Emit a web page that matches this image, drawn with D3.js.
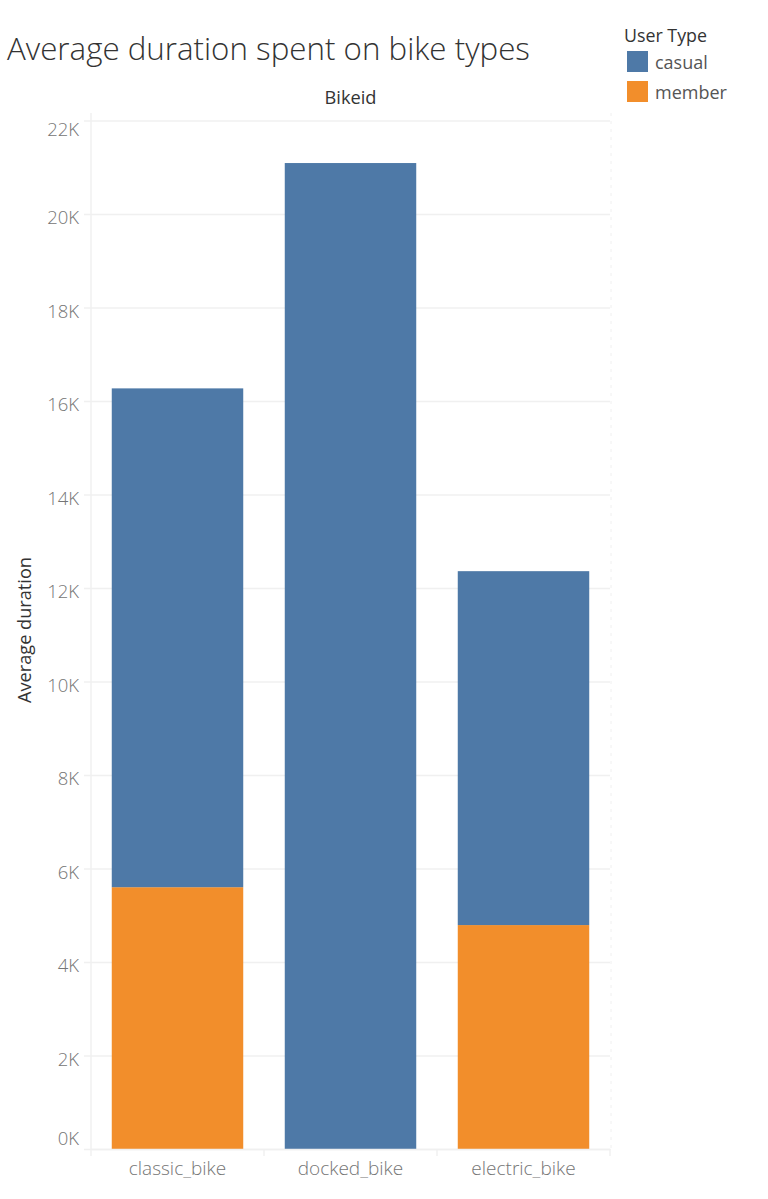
<!DOCTYPE html>
<html>
<head>
<meta charset="utf-8">
<script src="https://cdn.jsdelivr.net/npm/d3@7"></script>
<style>
  body { margin: 0; background: #fff; }
  svg { display: block; font-family: "Open Sans", "Noto Sans", sans-serif; }
</style>
</head>
<body>
<svg id="chart" width="768" height="1199"></svg>
<script>
var bikeTypes = ['classic_bike', 'docked_bike', 'electric_bike'];
var userTypes = ['casual', 'member'];
var casualValues = [10670, 21090, 7570];
var memberValues = [5600, 0, 4790];
var yTicks = [0, 2000, 4000, 6000, 8000, 10000, 12000, 14000, 16000, 18000, 20000, 22000];
var colors = ['#4e79a7', '#f28e2b'];

var svg = d3.select('#chart');
var plotLeft = 91, plotRight = 610, plotTop = 120.5, plotBottom = 1149;

var x = d3.scaleBand().domain(bikeTypes).range([plotLeft, plotRight]).paddingInner(0.24).paddingOuter(0.12);
var y = d3.scaleLinear().domain([0, 22000]).range([plotBottom, plotTop]);
var color = d3.scaleOrdinal().domain(userTypes).range(colors);

// rows for the stack, member sits at the bottom
var rows = bikeTypes.map(function(b, i){
  return { bike: b, casual: casualValues[i], member: memberValues[i] };
});
var stack = d3.stack().keys(['member', 'casual'])(rows);

// scale a text so it spans a given width
function fitWidth(sel, size, w){
  var tw = sel.node().getComputedTextLength();
  sel.attr('font-size', size * w / tw);
}

// title
var title = svg.append('text')
  .attr('x', 7).attr('y', 60)
  .attr('font-size', 28).attr('font-weight', 300)
  .attr('fill', '#333')
  .text('Average duration spent on bike types');
fitWidth(title, 28, 523);

// column header
var header = svg.append('text')
  .attr('x', (plotLeft + plotRight) / 2).attr('y', 104)
  .attr('text-anchor', 'middle')
  .attr('font-size', 18).attr('fill', '#333')
  .text('Bikeid');
fitWidth(header, 18, 52);

// gridlines + y ticks
var yAxis = d3.axisLeft(y).tickValues(yTicks).tickSize(plotRight - plotLeft + 7).tickSizeOuter(0)
  .tickFormat(function(d){ return (d / 1000) + 'K'; });
var gy = svg.append('g').attr('transform', 'translate(' + plotRight + ',0)').call(yAxis);
gy.select('.domain').remove();
gy.selectAll('.tick line').attr('stroke', '#f0f0f0').attr('stroke-width', 1.5);
gy.selectAll('.tick text')
  .attr('x', -(plotRight - plotLeft + 12))
  .attr('dy', null)
  .attr('dominant-baseline', 'central')
  .attr('y', function(d){
    var p = y(d) + 2;
    return Math.max(plotTop + 7.5, Math.min(plotBottom - 12, p)) - y(d);
  })
  .attr('font-size', 18.5).attr('font-weight', 300).attr('fill', '#757575')
  .attr('font-family', '"Open Sans", "Noto Sans", sans-serif');

// left axis line and faint right edge
svg.append('line').attr('x1', plotLeft).attr('x2', plotLeft).attr('y1', 113).attr('y2', plotBottom)
  .attr('stroke', '#f0f0f0').attr('stroke-width', 1.5);
svg.append('line').attr('x1', plotRight + 1).attr('x2', plotRight + 1).attr('y1', 113).attr('y2', plotBottom)
  .attr('stroke', '#f0f0f0').attr('stroke-dasharray', '3,5');

// bars
svg.append('g').selectAll('g').data(stack).enter().append('g')
  .attr('fill', function(d){ return color(d.key); })
  .selectAll('rect').data(function(d){ return d; }).enter().append('rect')
  .attr('x', function(d){ return x(d.data.bike); })
  .attr('width', x.bandwidth())
  .attr('y', function(d){ return y(d[1]); })
  .attr('height', function(d){ return y(d[0]) - y(d[1]); });

// bottom axis
var xAxis = d3.axisBottom(x).tickSize(0).tickPadding(13);
var gx = svg.append('g').attr('transform', 'translate(0,' + plotBottom + ')').call(xAxis);
gx.select('.domain').attr('stroke', '#f0f0f0').attr('stroke-width', 1.5);
gx.selectAll('.tick text').attr('font-size', 19).attr('font-weight', 300).attr('fill', '#757575')
  .attr('font-family', '"Open Sans", "Noto Sans", sans-serif');
svg.append('g').selectAll('line').data([0, 1, 2, 3]).enter().append('line')
  .attr('x1', function(d){ return plotLeft + d * (plotRight - plotLeft) / 3; })
  .attr('x2', function(d){ return plotLeft + d * (plotRight - plotLeft) / 3; })
  .attr('y1', plotBottom).attr('y2', plotBottom + 7)
  .attr('stroke', '#f0f0f0').attr('stroke-width', 1.5);

// y axis title
var yTitle = svg.append('text')
  .attr('transform', 'translate(31,630) rotate(-90)')
  .attr('text-anchor', 'middle')
  .attr('font-size', 18).attr('fill', '#333')
  .text('Average duration');
fitWidth(yTitle, 18, 146);

// legend
var legendTitle = svg.append('text').attr('x', 624).attr('y', 42)
  .attr('font-size', 17).attr('font-weight', 500).attr('fill', '#333')
  .text('User Type');
fitWidth(legendTitle, 17, 83);
var lg = svg.append('g').selectAll('g').data(userTypes).enter().append('g')
  .attr('transform', function(d, i){ return 'translate(627,' + (51 + i * 30) + ')'; });
lg.append('rect').attr('width', 21).attr('height', 21)
  .attr('fill', function(d){ return color(d); });
lg.append('text').attr('x', 28).attr('y', 11)
  .attr('dominant-baseline', 'central')
  .attr('font-size', 18).attr('fill', '#555')
  .text(function(d){ return d; });
</script>
</body>
</html>
